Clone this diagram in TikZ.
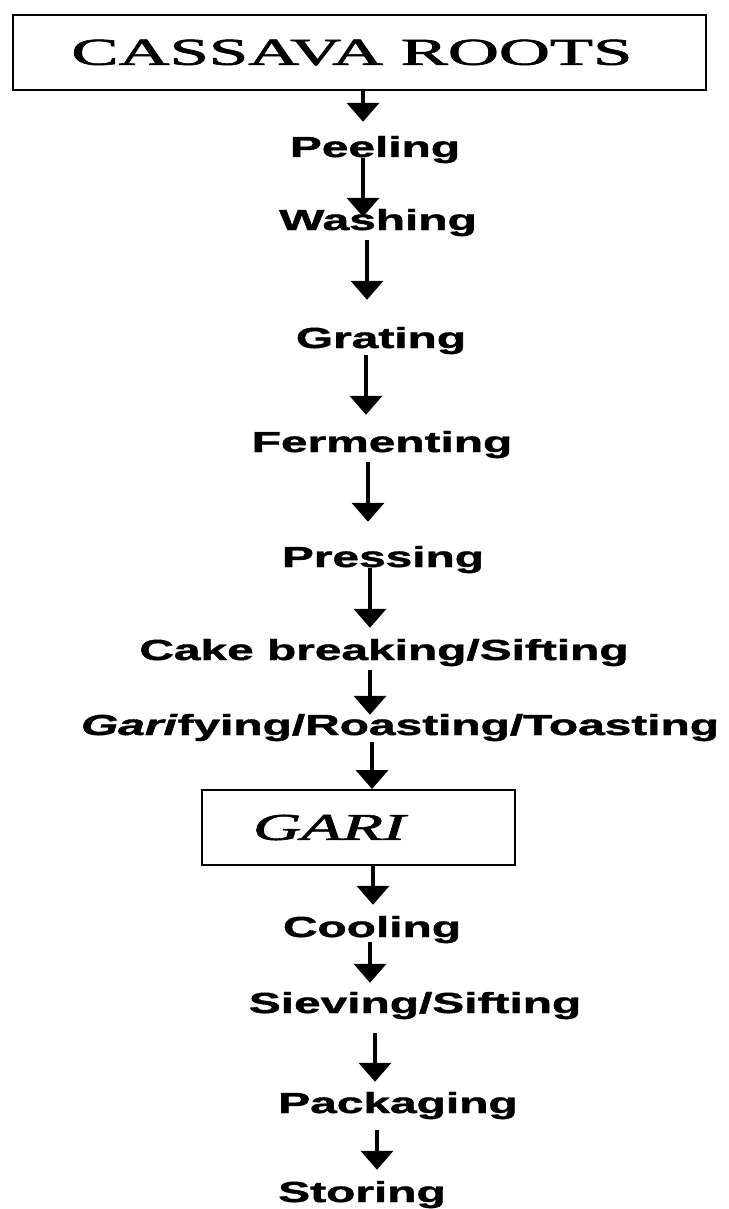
\documentclass[tikz,border=0pt]{standalone}
\usepackage{fontspec}
\setmainfont{Liberation Serif}
\newfontfamily\stepfont[FakeBold=1.2]{Liberation Sans}
\newfontfamily\titlefont[FakeBold=1.5]{Liberation Serif}
\usetikzlibrary{arrows.meta}
\newcommand\wide[1]{\scalebox{1.65}[1]{#1}}
\tikzset{
  stepnode/.style={anchor=base, inner sep=0pt, font=\stepfont\bfseries\fontsize{29}{29}\selectfont},
  boxnode/.style={draw=black, line width=2pt, inner sep=0pt, font=\titlefont\fontsize{38}{38}\selectfont},
  flow/.style={line width=4pt, -{Triangle[width=32pt,length=19pt]}}
}
\begin{document}
\begin{tikzpicture}[x=1pt,y=-1pt]
\useasboundingbox (0,0) rectangle (728,1209);
\fill[white] (0,0) rectangle (728,1209);
% boxes
\node[boxnode, minimum height=75pt] (roots) at (359.5,52.5)
  {\makebox[693pt][c]{\scalebox{1.86}[1]{CASSAVA ROOTS}\hspace{15pt}}};
\node[boxnode, minimum height=75pt] (gari) at (358.5,827.5)
  {\makebox[313pt][l]{\hspace{51pt}\scalebox{1.76}[1]{\textit{GARI}}}};
% steps
\node[stepnode] (peel)  at (375,157)  {\wide{Peeling}};
\node[stepnode] (wash)  at (378,230)  {\wide{Washing}};
\node[stepnode] (grat)  at (381,348)  {\wide{Grating}};
\node[stepnode] (ferm)  at (382,452)  {\wide{Fermenting}};
\node[stepnode] (press) at (383,567)  {\wide{Pressing}};
\node[stepnode] (cake)  at (384,660)  {\wide{Cake breaking/Sifting}};
\node[stepnode] (gar)   at (400,735)  {\wide{\textit{Gari}fying/Roasting/Toasting}};
\node[stepnode] (cool)  at (372,937)  {\wide{Cooling}};
\node[stepnode] (siev)  at (415,1013) {\wide{Sieving/Sifting}};
\node[stepnode] (pack)  at (398,1113) {\wide{Packaging}};
\node[stepnode] (stor)  at (362,1202) {\wide{Storing}};
% arrow columns
\coordinate (c1) at (363,0);
\coordinate (c2) at (363,0);
\coordinate (c3) at (367,0);
\coordinate (c4) at (366,0);
\coordinate (c5) at (368,0);
\coordinate (c6) at (370,0);
\coordinate (c7) at (370,0);
\coordinate (c8) at (372,0);
\coordinate (c9) at (373,0);
\coordinate (c10) at (370,0);
\coordinate (c11) at (375,0);
\coordinate (c12) at (377,0);
% connectors
\draw[flow, shorten >=14pt] (roots.south -| c1) -- (peel.north -| c1);
\draw[flow, shorten <=-5pt, shorten >=-8pt] (peel.south -| c2) -- (wash.north -| c2);
\draw[flow, shorten <=4pt, shorten >=27pt] (wash.south -| c3) -- (grat.north -| c3);
\draw[flow, shorten <=1pt, shorten >=16pt] (grat.south -| c4) -- (ferm.north -| c4);
\draw[flow, shorten <=4pt, shorten >=24pt] (ferm.south -| c5) -- (press.north -| c5);
\draw[flow, shorten <=-5pt, shorten >=11pt] (press.south -| c6) -- (cake.north -| c6);
\draw[flow, shorten <=4pt, shorten >=-1pt] (cake.south -| c7) -- (gar.north -| c7);
\draw[flow, shorten <=1pt] (gar.south -| c8) -- (gari.north -| c8);
\draw[flow, shorten >=11pt] (gari.south -| c9) -- (cool.north -| c9);
\draw[flow, shorten <=-1pt, shorten >=9pt] (cool.south -| c10) -- (siev.north -| c10);
\draw[flow, shorten <=14pt, shorten >=10pt] (siev.south -| c11) -- (pack.north -| c11);
\draw[flow, shorten <=11pt, shorten >=11pt] (pack.south -| c12) -- (stor.north -| c12);
\end{tikzpicture}
\end{document}
